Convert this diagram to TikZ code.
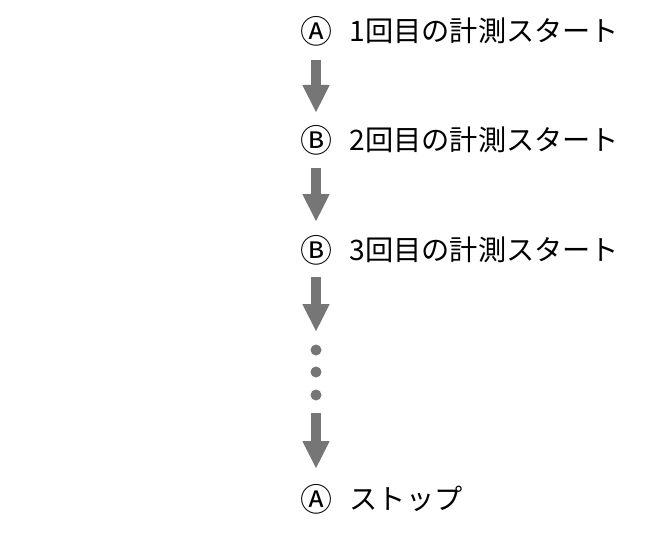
\documentclass[tikz,border=0pt]{standalone}
\usepackage{fontspec}
\setmainfont{Noto Sans CJK JP}
\usetikzlibrary{arrows.meta,positioning}
\definecolor{flowgray}{RGB}{118,118,118}

\tikzset{
  casemark/.style={inner sep=0pt, font=\fontsize{32}{36}\selectfont},
  stepname/.style={anchor=west, inner sep=0pt, font=\fontsize{28.2}{34}\selectfont},
  flow/.style={draw=flowgray, line width=10pt, -{Triangle[width=25pt,length=28pt]}},
  dotmark/.style={circle, fill=flowgray, inner sep=0pt, minimum size=11pt}
}

\begin{document}
\begin{tikzpicture}[x=1pt,y=-1pt]
\useasboundingbox (0,0) rectangle (667,535);
% rows
\node[casemark] (m1) at (316,31) {Ⓐ};
\node[casemark] (m2) at (316,140) {Ⓑ};
\node[casemark] (m3) at (316,250) {Ⓑ};
\node[casemark] (m4) at (316,499) {Ⓐ};
\node[stepname] (t1) at (349.5,31) {1回目の計測スタート};
\node[stepname] (t2) at (349.5,140) {2回目の計測スタート};
\node[stepname] (t3) at (349.5,250) {3回目の計測スタート};
\node[stepname] (t4) at (349.5,499) {ストップ};
% dots
\node[dotmark] (d1) at (316,350) {};
\node[dotmark] (d2) at (316,372) {};
\node[dotmark] (d3) at (316,395) {};
% arrows
\draw[flow, shorten <=29pt, shorten >=27pt] (m1.center) -- (m2.center);
\draw[flow, shorten <=28pt, shorten >=28pt] (m2.center) -- (m3.center);
\draw[flow, shorten <=27pt, shorten >=18pt] (m3.center) -- (d1.center);
\draw[flow, shorten <=18pt, shorten >=30pt] (d3.center) -- (m4.center);
\end{tikzpicture}
\end{document}
